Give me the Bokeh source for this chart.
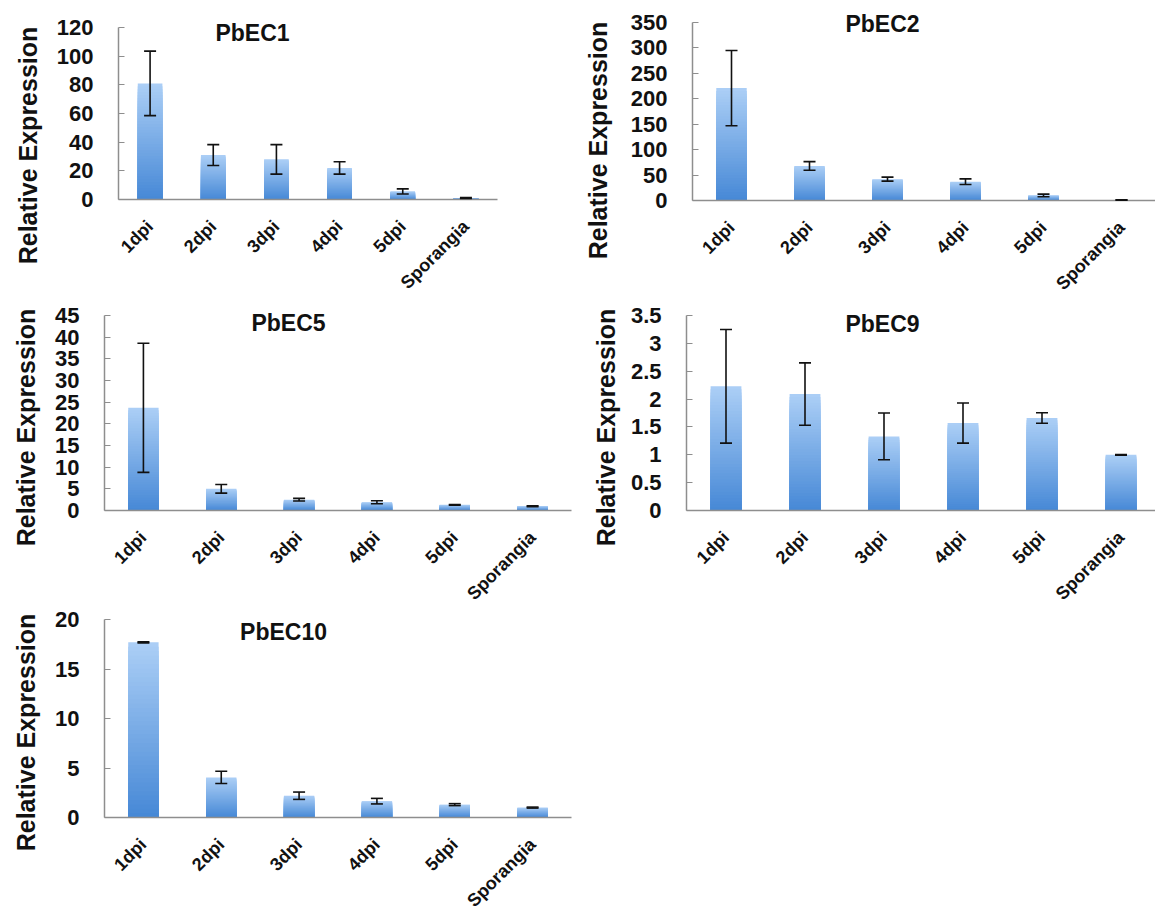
import math
import numpy as np
from bokeh.plotting import figure
from bokeh.layouts import column, row
from bokeh.models import (Range1d, FixedTicker, CustomJSTickFormatter, Label,
                          Whisker, TeeHead, ColumnDataSource)
from bokeh.embed import file_html
from bokeh.resources import INLINE

# ---------------- data ----------------
categories = ["1dpi", "2dpi", "3dpi", "4dpi", "5dpi", "Sporangia"]

pbec1_mean = [81.0, 31.0, 28.0, 22.0, 5.6, 1.0]
pbec1_sd = [22.5, 7.3, 10.3, 4.3, 1.8, 0.3]
pbec1_ticks = [0, 20, 40, 60, 80, 100, 120]

pbec2_mean = [221.0, 68.0, 42.0, 37.0, 10.0, 1.0]
pbec2_sd = [74.0, 8.5, 3.9, 5.5, 2.5, 0.3]
pbec2_ticks = [0, 50, 100, 150, 200, 250, 300, 350]

pbec5_mean = [23.7, 5.0, 2.5, 1.9, 1.3, 1.0]
pbec5_sd = [14.9, 1.0, 0.3, 0.35, 0.1, 0.1]
pbec5_ticks = [0, 5, 10, 15, 20, 25, 30, 35, 40, 45]

pbec9_mean = [2.23, 2.09, 1.33, 1.57, 1.66, 1.0]
pbec9_sd = [1.02, 0.56, 0.42, 0.36, 0.095, 0.006]
pbec9_ticks = [0, 0.5, 1, 1.5, 2, 2.5, 3, 3.5]

pbec10_mean = [17.7, 4.05, 2.2, 1.65, 1.3, 1.0]
pbec10_sd = [0.06, 0.62, 0.37, 0.28, 0.1, 0.05]
pbec10_ticks = [0, 5, 10, 15, 20]

FONT = "Liberation Sans"
BAR_TOP = np.array([172, 207, 246])
BAR_BOTTOM = np.array([70, 136, 214])
AXIS_GREY = "#8e8e8e"
TEXT = "#111111"


def make_panel(name, means, sds, yticks, spec):
    # spec holds page-pixel layout: figure box, y-axis x pixel, zero-line y pixel,
    # pixel height of the full y scale, pixels per category, title / y-label centres
    fx, fy, fw, fh = spec["fig"]
    ax_px = spec["axis_x"]
    y0 = spec["zero_y"]
    hpx = spec["scale_h"]
    unit = spec["unit"]
    ymax = yticks[-1]

    x_rng = Range1d((fx - ax_px) / unit, (fx + fw - ax_px) / unit)
    y_rng = Range1d(ymax * (y0 - (fy + fh)) / hpx, ymax * (y0 - fy) / hpx)

    p = figure(width=fw, height=fh, x_range=x_rng, y_range=y_rng,
               output_backend="svg", toolbar_location=None,
               min_border=0, min_border_left=0, min_border_right=0,
               min_border_top=0, min_border_bottom=0)
    p.title.visible = False
    p.outline_line_color = None
    p.xgrid.visible = False
    p.ygrid.visible = False
    p.background_fill_color = "white"
    p.border_fill_color = "white"

    xs = [i + 0.5 for i in range(len(categories))]
    means = np.array(means, dtype=float)
    sds = np.array(sds, dtype=float)

    # gradient bars: overlapping bars, tallest (lightest) first, darker shorter ones on top
    n = 40
    bx, bt, bc = [], [], []
    for k in range(n, 0, -1):
        t = (k - 0.5) / n
        c = BAR_BOTTOM + (BAR_TOP - BAR_BOTTOM) * t
        col = "#%02x%02x%02x" % tuple(int(round(v)) for v in c)
        for x, m in zip(xs, means):
            bx.append(x)
            bt.append(m * k / n)
            bc.append(col)
    p.vbar(x=bx, width=0.39, bottom=0, top=bt, fill_color=bc, line_color=None)

    src = ColumnDataSource(dict(base=xs, upper=list(means + sds), lower=list(means - sds)))
    w = Whisker(source=src, base="base", upper="upper", lower="lower", dimension="height",
                line_color=TEXT, line_width=1.6,
                upper_head=TeeHead(size=12, line_color=TEXT, line_width=1.6),
                lower_head=TeeHead(size=12, line_color=TEXT, line_width=1.6))
    w.level = "overlay"
    p.add_layout(w)

    # x axis (drawn at y = 0)
    xa = p.xaxis[0]
    xa.fixed_location = 0
    xa.bounds = (0, len(categories))
    xa.ticker = FixedTicker(ticks=xs)
    xa.formatter = CustomJSTickFormatter(args=dict(labels=categories),
                                         code="return labels[Math.round(tick - 0.5)] || '';")
    xa.major_label_orientation = math.pi / 4
    xa.major_tick_line_color = None
    xa.minor_tick_line_color = None
    xa.axis_line_color = AXIS_GREY
    xa.axis_line_width = 1.5
    xa.major_label_standoff = 18
    xa.major_label_text_font = FONT
    xa.major_label_text_font_style = "bold"
    xa.major_label_text_font_size = "18px"
    xa.major_label_text_color = TEXT

    # y axis (drawn at x = 0)
    ya = p.yaxis[0]
    ya.fixed_location = 0
    ya.bounds = (0, ymax)
    ya.ticker = FixedTicker(ticks=yticks)
    ya.formatter = CustomJSTickFormatter(code="return String(tick);")
    ya.major_tick_in = 6
    ya.major_tick_out = 0
    ya.major_tick_line_color = AXIS_GREY
    ya.major_tick_line_width = 1.2
    ya.minor_tick_line_color = None
    ya.axis_line_color = AXIS_GREY
    ya.axis_line_width = 1.5
    ya.major_label_standoff = 25
    ya.major_label_text_font = FONT
    ya.major_label_text_font_style = "bold"
    ya.major_label_text_font_size = "22px"
    ya.major_label_text_color = TEXT

    def to_data(px, py):
        return (px - ax_px) / unit, ymax * (y0 - py) / hpx

    tx, ty = to_data(*spec["title"])
    p.add_layout(Label(x=tx, y=ty, text=name, text_font=FONT, text_font_style="bold",
                       text_font_size="23px", text_color=TEXT,
                       text_align="center", text_baseline="middle"))
    lx, ly = to_data(*spec["ylabel"])
    p.add_layout(Label(x=lx, y=ly, text="Relative Expression", angle=math.pi / 2,
                       text_font=FONT, text_font_style="bold", text_font_size="25px",
                       text_color=TEXT, text_align="center", text_baseline="middle"))
    return p


# page-pixel layout of each panel
spec1 = dict(fig=(0, 0, 580, 303), axis_x=118, zero_y=199, scale_h=172, unit=379 / 6,
             title=(252, 32), ylabel=(27, 145))
spec2 = dict(fig=(580, 0, 575, 303), axis_x=692, zero_y=200, scale_h=178, unit=78.0,
             title=(882, 23), ylabel=(597, 140))
spec5 = dict(fig=(0, 303, 580, 303), axis_x=104, zero_y=510, scale_h=195, unit=467 / 6,
             title=(288, 322), ylabel=(25, 427))
spec9 = dict(fig=(580, 303, 575, 303), axis_x=686, zero_y=510, scale_h=195, unit=79.0,
             title=(882, 323), ylabel=(605, 427))
spec10 = dict(fig=(0, 606, 580, 314), axis_x=104, zero_y=817, scale_h=198, unit=467 / 6,
              title=(283, 631), ylabel=(25, 732))

p1 = make_panel("PbEC1", pbec1_mean, pbec1_sd, pbec1_ticks, spec1)
p2 = make_panel("PbEC2", pbec2_mean, pbec2_sd, pbec2_ticks, spec2)
p5 = make_panel("PbEC5", pbec5_mean, pbec5_sd, pbec5_ticks, spec5)
p9 = make_panel("PbEC9", pbec9_mean, pbec9_sd, pbec9_ticks, spec9)
p10 = make_panel("PbEC10", pbec10_mean, pbec10_sd, pbec10_ticks, spec10)

layout = column(row(p1, p2), row(p5, p9), p10)
open("out.html", "w").write(file_html(layout, INLINE))
